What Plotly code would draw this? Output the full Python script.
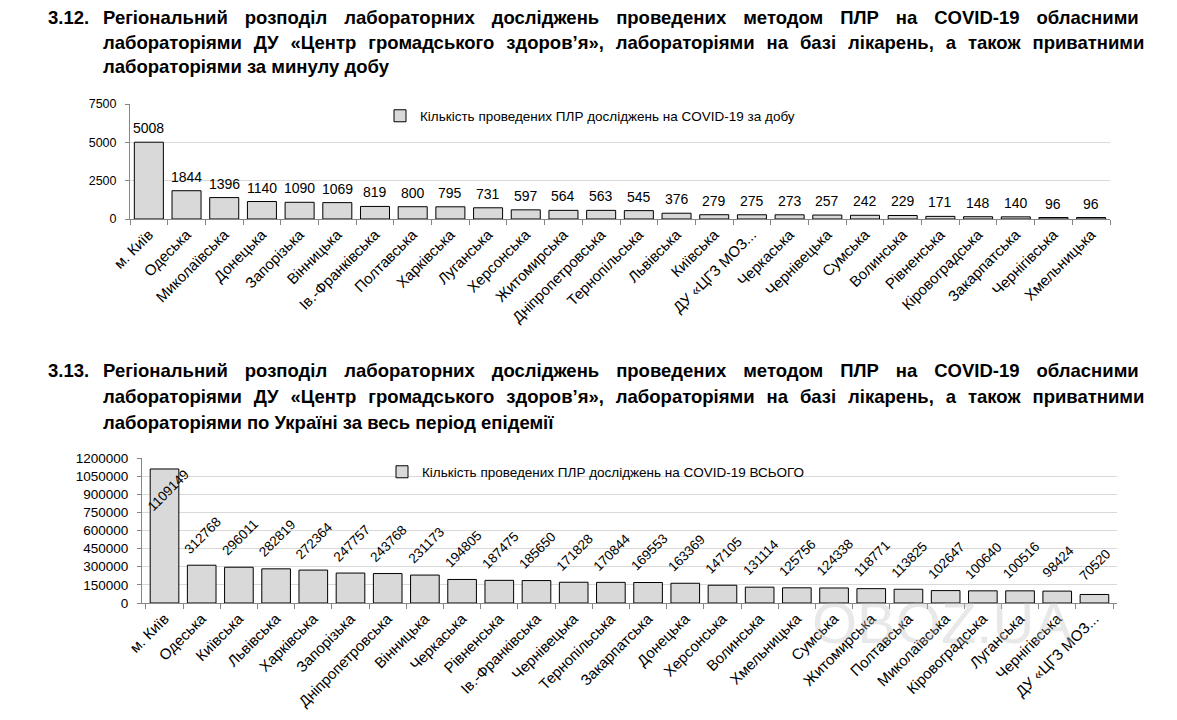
import plotly.graph_objects as go

# ---------------- data ----------------
daily_regions = [
    "м. Київ", "Одеська", "Миколаївська", "Донецька", "Запорізька", "Вінницька",
    "Ів.-Франківська", "Полтавська", "Харківська", "Луганська", "Херсонська",
    "Житомирська", "Дніпропетровська", "Тернопільська", "Львівська", "Київська",
    "ДУ «ЦГЗ МОЗ...", "Черкаська", "Чернівецька", "Сумська", "Волинська",
    "Рівненська", "Кіровоградська", "Закарпатська", "Чернігівська", "Хмельницька",
]
daily_values = [5008, 1844, 1396, 1140, 1090, 1069, 819, 800, 795, 731, 597, 564,
                563, 545, 376, 279, 275, 273, 257, 242, 229, 171, 148, 140, 96, 96]

total_regions = [
    "м. Київ", "Одеська", "Київська", "Львівська", "Харківська", "Запорізька",
    "Дніпропетровська", "Вінницька", "Черкаська", "Рівненська", "Ів.-Франківська",
    "Чернівецька", "Тернопільська", "Закарпатська", "Донецька", "Херсонська",
    "Волинська", "Хмельницька", "Сумська", "Житомирська", "Полтавська",
    "Миколаївська", "Кіровоградська", "Луганська", "Чернігівська", "ДУ «ЦГЗ МОЗ...",
]
total_values = [1109149, 312768, 296011, 282819, 272364, 247757, 243768, 231173,
                194805, 187475, 185650, 171828, 170844, 169553, 163369, 147105,
                131114, 125756, 124338, 118771, 113825, 102647, 100640, 100516,
                98424, 70520]

daily_name = "Кількість проведених ПЛР досліджень на COVID-19 за добу"
total_name = "Кількість проведених ПЛР досліджень на COVID-19 ВСЬОГО"

title1 = [
    "Регіональний розподіл лабораторних досліджень проведених методом ПЛР на COVID-19 обласними",
    "лабораторіями ДУ «Центр громадського здоров’я», лабораторіями на базі лікарень, а також приватними",
    "лабораторіями за минулу добу",
]
title2 = [
    "Регіональний розподіл лабораторних досліджень проведених методом ПЛР на COVID-19 обласними",
    "лабораторіями ДУ «Центр громадського здоров’я», лабораторіями на базі лікарень, а також приватними",
    "лабораторіями по Україні за весь період епідемії",
]
# word-gap fillers imitating the justified heading lines
title_gaps = [" \u00a0\u00a0\u200a", " \u2009\u200a\u200a", " "]

y1_max, y1_step = 7500, 2500
y2_max, y2_step = 1200000, 150000

# ---------------- style ----------------
W, H = 1177, 720
OFF = 8  # page body margin of the rendered html
FONT = "Liberation Sans"
BAR_FILL = "#d9d9d9"
AXIS_GREY = "#868686"
GRID = "#d9d9d9"


def px_x(p):
    return (p - OFF) / W


def px_y(p):
    return (H - (p - OFF)) / H


fig = go.Figure()
fig.add_trace(go.Bar(
    x=daily_regions, y=daily_values, xaxis="x", yaxis="y",
    name=daily_name, legend="legend", showlegend=True,
    marker=dict(color=BAR_FILL, line=dict(color="#000000", width=1)),
))
fig.add_trace(go.Bar(
    x=total_regions, y=total_values, xaxis="x2", yaxis="y2",
    name=total_name, legend="legend2", showlegend=True,
    marker=dict(color=BAR_FILL, line=dict(color="#000000", width=1)),
))

xcommon = dict(
    type="category", tickangle=-45, ticks="outside", tickson="boundaries",
    ticklen=5, tickcolor=AXIS_GREY, showline=True, linecolor=AXIS_GREY,
    linewidth=1, showgrid=False, automargin=False,
    tickfont=dict(size=15, color="#000000", family=FONT),
)
ycommon = dict(
    showline=True, linecolor=AXIS_GREY, linewidth=1, ticks="outside", ticklen=4,
    tickcolor=AXIS_GREY, showgrid=True, gridcolor=GRID, gridwidth=1.3,
    zeroline=False, ticklabelstandoff=6, tickformat="d", automargin=False,
)

annotations = []
for r, v in zip(daily_regions, daily_values):
    annotations.append(dict(
        x=r, y=v, xref="x", yref="y", text=str(v), showarrow=False,
        yanchor="bottom", yshift=4, font=dict(size=14, color="#000000", family=FONT),
    ))
for r, v in zip(total_regions, total_values):
    inside = v > 0.85 * y2_max
    annotations.append(dict(
        x=r, y=v, xref="x2", yref="y2", text=str(v), showarrow=False,
        textangle=-45, xanchor="center", yanchor="middle",
        xshift=4 if inside else 1, yshift=-22 if inside else 30,
        font=dict(size=13.5, color="#000000", family=FONT),
    ))


def heading(num, lines, top, step):
    out = [dict(
        x=px_x(46), y=px_y(top), xref="paper", yref="paper", xanchor="left",
        yanchor="middle", text="<b>" + num + "</b>", showarrow=False,
        font=dict(size=18.5, color="#000000", family=FONT),
    )]
    for i, ln in enumerate(lines):
        out.append(dict(
            x=px_x(101), y=px_y(top + step * i), xref="paper", yref="paper",
            xanchor="left", yanchor="middle",
            text="<b>" + title_gaps[i].join(ln.split(" ")) + "</b>",
            showarrow=False, font=dict(size=18.5, color="#000000", family=FONT),
        ))
    return out


annotations += heading("3.12.", title1, 18, 24)
annotations += heading("3.13.", title2, 370, 26.5)

# faint watermark
annotations.append(dict(
    x=px_x(1075), y=px_y(657), xref="paper", yref="paper", text="OBOZ.UA",
    showarrow=False, font=dict(size=58, color="rgba(190,190,190,0.35)", family=FONT),
))

fig.update_layout(
    width=W, height=H, margin=dict(l=0, r=0, t=0, b=0, pad=0, autoexpand=False),
    paper_bgcolor="#ffffff", plot_bgcolor="#ffffff",
    font=dict(family=FONT, color="#000000"),
    bargap=0.23,
    xaxis=dict(domain=[px_x(130), px_x(1110)], anchor="y", **xcommon),
    yaxis=dict(domain=[px_y(219), px_y(104)], anchor="x", range=[0, y1_max],
               dtick=y1_step, tick0=0,
               tickfont=dict(size=12.5, color="#000000", family=FONT), **ycommon),
    xaxis2=dict(domain=[px_x(142), px_x(1117)], anchor="y2", **xcommon),
    yaxis2=dict(domain=[px_y(603), px_y(458)], anchor="x2", range=[0, y2_max],
                dtick=y2_step, tick0=0,
                tickfont=dict(size=13.5, color="#000000", family=FONT), **ycommon),
    legend=dict(x=px_x(380), xanchor="left", y=px_y(116), yanchor="middle",
                bgcolor="rgba(0,0,0,0)", font=dict(size=13.5, family=FONT),
                itemclick=False, itemdoubleclick=False),
    legend2=dict(x=px_x(382), xanchor="left", y=px_y(472), yanchor="middle",
                 bgcolor="rgba(0,0,0,0)", font=dict(size=13.5, family=FONT),
                 itemclick=False, itemdoubleclick=False),
    annotations=annotations,
    showlegend=True,
)

fig.write_html("out.html")
